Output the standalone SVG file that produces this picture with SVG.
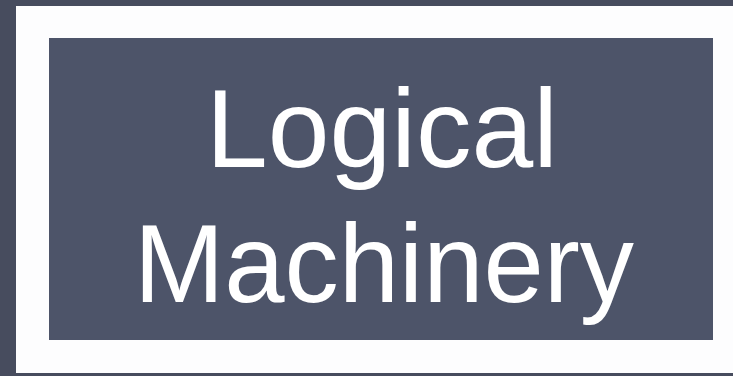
<svg xmlns="http://www.w3.org/2000/svg" width="733" height="376" viewBox="0 0 733 376">
<style>
.t{font-family:"Liberation Sans",Arial,sans-serif;font-size:111px;fill:#ffffff;text-anchor:middle}
</style>
<rect x="0" y="0" width="733" height="376" fill="#474c5e"/>
<g id="frame">
<rect x="16" y="6" width="730" height="367" fill="#fdfdfe"/>
</g>
<g id="title">
<rect x="49" y="38" width="664" height="302" fill="#4d5469"/>
<text class="t" x="382" y="167">Logical</text>
<text class="t" x="384" y="302" textLength="500" lengthAdjust="spacingAndGlyphs">Machinery</text>
</g>
</svg>
